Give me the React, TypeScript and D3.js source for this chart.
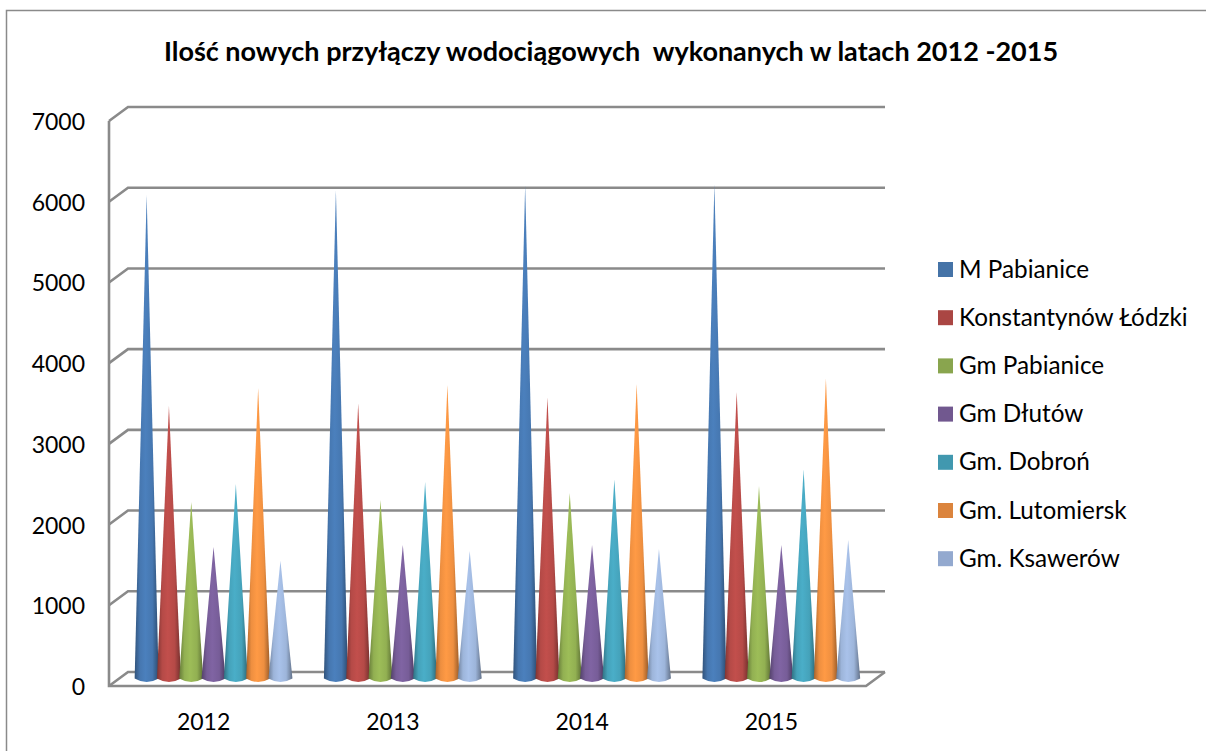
import React from "react";
import * as d3 from "d3";

const W = 1206, H = 751;
const title = "Ilość nowych przyłączy wodociągowych  wykonanych w latach 2012 -2015";
const years = ["2012", "2013", "2014", "2015"];
const seriesNames = ["M Pabianice", "Konstantynów Łódzki", "Gm Pabianice", "Gm Dłutów", "Gm. Dobroń", "Gm. Lutomiersk", "Gm. Ksawerów"];
const mPabianice = [5990, 6050, 6110, 6125];
const konstantynow = [3375, 3410, 3485, 3550];
const gmPabianice = [2190, 2210, 2300, 2385];
const gmDlutow = [1630, 1655, 1655, 1655];
const gmDobron = [2410, 2435, 2470, 2585];
const gmLutomiersk = [3600, 3635, 3650, 3720];
const gmKsawerow = [1460, 1580, 1605, 1715];
const allSeries = [mPabianice, konstantynow, gmPabianice, gmDlutow, gmDobron, gmLutomiersk, gmKsawerow];
const colors = ["#4573a7", "#aa4643", "#89a54e", "#71588f", "#4198af", "#db843d", "#93a9cf"];
const coneColors = ["#4677b0", "#b54a47", "#92b052", "#775d98", "#45a2ba", "#ee8f40", "#9db5da"];
const yTicks = [0, 1000, 2000, 3000, 4000, 5000, 6000, 7000];

const depthX = 19, depthY = 14;
const frontLeft = 109, frontRight = 866, front0 = 686, front7000 = 121;
const yFront = d3.scaleLinear().domain([0, 7000]).range([front0, front7000]);
const yMid = (v: number) => yFront(v) - depthY / 2 - 0.5;
const x0 = d3.scaleBand<string>().domain(years).range([frontLeft + 9, frontRight + 9]);
const xS = d3.scaleBand<number>().domain(d3.range(7)).range([26.5, 26.5 + 22.3 * 7]);
const halfW = 12;
const font = "Lato, 'Open Sans', sans-serif";
const grid = "#8a8a8a";

export default function App() {
  return (
    <svg width={W} height={H} style={{ position: "absolute", left: 0, top: 0, background: "#fff" }}>
      <defs>
        {coneColors.map((c, i) => (
          <linearGradient key={i} id={`g${i}`} x1="0" x2="1" y1="0" y2="0">
            <stop offset="0" stopColor={d3.color(c)!.darker(1).formatHex()} />
            <stop offset="0.22" stopColor={c} />
            <stop offset="0.45" stopColor={d3.color(c)!.brighter(0.2).formatHex()} />
            <stop offset="0.74" stopColor={c} />
            <stop offset="1" stopColor={d3.color(c)!.darker(1.3).formatHex()} />
          </linearGradient>
        ))}
      </defs>
      <path d={`M6.5,${H}V10.5H${W}`} fill="none" stroke="#8a8a8a" strokeWidth={1.5} />
      <text x={611} y={61} textAnchor="middle" fontFamily={font} fontWeight={700} fontSize={27} fill="#000" style={{ whiteSpace: "pre" }}>{title}</text>

      {yTicks.map((t) => (
        <path key={t} fill="none" stroke={grid} strokeWidth={2.6}
          d={`M${frontLeft},${yFront(t)}L${frontLeft + depthX},${yFront(t) - depthY}L${frontRight + depthX},${yFront(t) - depthY}`} />
      ))}
      <path fill="none" stroke={grid} strokeWidth={2.6}
        d={`M${frontLeft},${yFront(7000)}L${frontLeft},${yFront(0)}L${frontRight},${yFront(0)}L${frontRight + depthX},${yFront(0) - depthY}`} />

      {yTicks.map((t) => (
        <text key={t} x={85} y={yFront(t) + 9} textAnchor="end" fontFamily={font} fontSize={23} fill="#000">{t}</text>
      ))}

      {years.map((yr, yi) => (
        <g key={yr}>
          {allSeries.map((s, si) => {
            const cx = (x0(yr) as number) + (xS(si) as number) + xS.bandwidth() / 2 - 9;
            const base = yMid(0);
            const top = yMid(s[yi]);
            const p = d3.path();
            p.moveTo(cx, top);
            p.lineTo(cx + halfW, base);
            p.quadraticCurveTo(cx, base + 7, cx - halfW, base);
            p.closePath();
            return <path key={si} d={p.toString()} fill={`url(#g${si})`} />;
          })}
          <text x={(x0(yr) as number) + x0.bandwidth() / 2 - 9} y={729.5} textAnchor="middle" fontFamily={font} fontSize={23} fill="#000">{yr}</text>
        </g>
      ))}

      {seriesNames.map((n, i) => (
        <g key={n}>
          <rect x={938} y={262 + i * 48.2} width={15} height={15} fill={colors[i]} />
          <text x={959} y={277.5 + i * 48.2} fontFamily={font} fontSize={24.3} fill="#000">{n}</text>
        </g>
      ))}
    </svg>
  );
}
